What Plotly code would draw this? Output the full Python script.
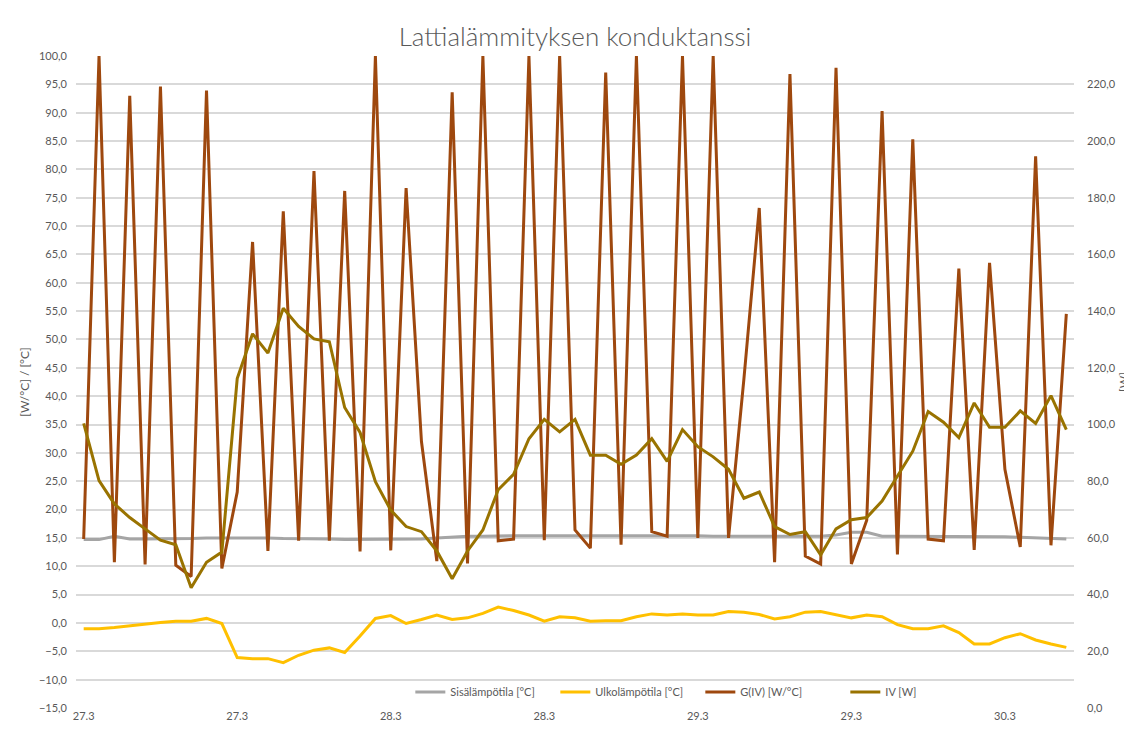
import plotly.graph_objects as go

# Point index (time steps) and x tick labels
n_points = 65
tick_positions = [0, 10, 20, 30, 40, 50, 60]
tick_labels = ["27.3", "27.3", "28.3", "28.3", "29.3", "29.3", "30.3"]

sisa = [14.7, 14.7, 15.3, 14.8, 14.8, 14.8, 14.9, 14.9, 15.0, 15.0,
        15.0, 15.1, 15.0, 14.9, 14.9, 14.9, 14.8, 14.7, 14.7, 14.7,
        14.7, 14.7, 14.8, 15.0, 15.2, 15.3, 15.3, 15.4, 15.4, 15.4,
        15.4, 15.5, 15.5, 15.5, 15.5, 15.5, 15.5, 15.4, 15.4, 15.4,
        15.4, 15.3, 15.3, 15.3, 15.3, 15.3, 15.3, 15.2, 15.3, 15.5,
        16.0, 16.0, 15.3, 15.3, 15.3, 15.3, 15.3, 15.3, 15.3, 15.3,
        15.2, 15.1, 15.0, 15.0, 14.8]

ulko = [-1.0, -1.0, -0.8, -0.5, -0.1, 0.1, 0.3, 0.3, 0.8, -0.1,
        -6.1, -6.3, -6.3, -7.0, -5.7, -4.8, -4.4, -5.2, -2.3, 0.8,
        1.3, -0.1, 0.6, 1.4, 0.6, 0.9, 1.7, 2.8, 2.2, 1.4,
        0.3, 1.1, 0.9, 0.3, 0.4, 0.4, 1.1, 1.6, 1.4, 1.6,
        1.4, 1.4, 2.0, 1.9, 1.5, 0.7, 1.1, 1.9, 2.0, 1.5,
        0.9, 1.4, 1.1, -0.3, -1.0, -1.0, -0.5, -1.7, -3.7, -3.7,
        -2.6, -1.9, -3.0, -3.7, -4.3]

g_iv = [14.8, 100.0, 10.7, 93.0, 10.3, 94.6, 10.2, 8.2, 93.9, 9.6,
        23.1, 67.2, 12.7, 72.6, 14.5, 79.7, 14.5, 76.2, 12.6, 100.0,
        12.8, 76.7, 32.0, 10.9, 93.6, 10.5, 100.0, 14.5, 14.8, 100.0,
        14.6, 100.0, 16.4, 13.2, 97.1, 13.8, 100.0, 16.1, 15.3, 100.0,
        15.0, 100.0, 15.0, 43.0, 73.2, 10.7, 96.8, 11.8, 10.4, 97.9,
        10.4, 18.1, 90.3, 12.1, 85.3, 14.8, 14.5, 62.5, 12.9, 63.5,
        27.1, 13.4, 82.3, 13.7, 54.5]

iv = [100.4, 80.2, 72.0, 67.2, 63.2, 59.2, 57.6, 42.4, 51.4, 55.0,
      116.2, 132.0, 125.2, 141.0, 134.6, 130.2, 129.2, 106.0, 97.2, 79.8,
      69.8, 64.0, 62.2, 55.4, 45.6, 55.4, 62.8, 77.0, 82.4, 95.0,
      101.8, 97.4, 101.8, 89.2, 89.2, 86.0, 89.2, 95.0, 87.0, 98.2,
      92.2, 88.6, 84.2, 74.0, 76.2, 64.0, 61.2, 62.2, 54.0, 63.2,
      66.4, 67.2, 73.0, 82.0, 90.6, 104.6, 100.8, 95.4, 107.6, 99.0,
      99.0, 104.8, 100.4, 110.2, 98.2]

x = list(range(n_points))

font_family = "Lato, 'Open Sans', sans-serif"
txt = "#595959"

fig = go.Figure()
fig.add_trace(go.Scatter(x=x, y=sisa, name="Sisälämpötila [°C]", mode="lines",
                         line=dict(color="#A5A5A5", width=3)))
fig.add_trace(go.Scatter(x=x, y=ulko, name="Ulkolämpötila [°C]", mode="lines",
                         line=dict(color="#FFC000", width=3)))
fig.add_trace(go.Scatter(x=x, y=g_iv, name="G(IV) [W/°C]", mode="lines",
                         line=dict(color="#9E480E", width=3)))
fig.add_trace(go.Scatter(x=x, y=iv, name="IV [W]", mode="lines", yaxis="y2",
                         line=dict(color="#997300", width=3)))

fig.update_layout(
    width=1132, height=736,
    margin=dict(l=68, r=66, t=48, b=36),
    paper_bgcolor="white", plot_bgcolor="white",
    separators=", ",
    font=dict(family=font_family, color=txt, size=11),
    title=dict(text="Lattialämmityksen konduktanssi", x=0.5, xanchor="center",
               xref="paper", y=1 - 29 / 736, yanchor="middle", yref="container",
               font=dict(size=26, color=txt, family=font_family, weight=300)),
    xaxis=dict(range=[-0.5, n_points - 0.5], tickmode="array",
               tickvals=tick_positions, ticktext=tick_labels,
               showgrid=False, zeroline=False, showline=False,
               ticks="", tickfont=dict(size=11, color=txt)),
    yaxis=dict(range=[-15, 100], dtick=5, tick0=0, tickformat=".1f",
               showgrid=True, gridcolor="#D9D9D9", gridwidth=2,
               zeroline=False, showline=False, ticks="",
               ticklabelstandoff=8,
               title=dict(text="[W/°C] / [°C]", font=dict(size=12, color=txt), standoff=6),
               tickfont=dict(size=11, color=txt)),
    yaxis2=dict(range=[0, 230], dtick=20, tick0=0, tickformat=".1f",
                overlaying="y", side="right", showgrid=False, zeroline=False,
                showline=False, ticks="", ticklabelstandoff=12,
                title=dict(text="[W]", font=dict(size=12, color=txt), standoff=2),
                tickfont=dict(size=11, color=txt)),
    legend=dict(orientation="h", x=0.335, xanchor="left", y=0.0245, yanchor="middle",
                bgcolor="rgba(0,0,0,0)", font=dict(size=11, color=txt),
                itemwidth=30, traceorder="normal", entrywidth=100),
    showlegend=True,
)

fig.write_html("out.html")
